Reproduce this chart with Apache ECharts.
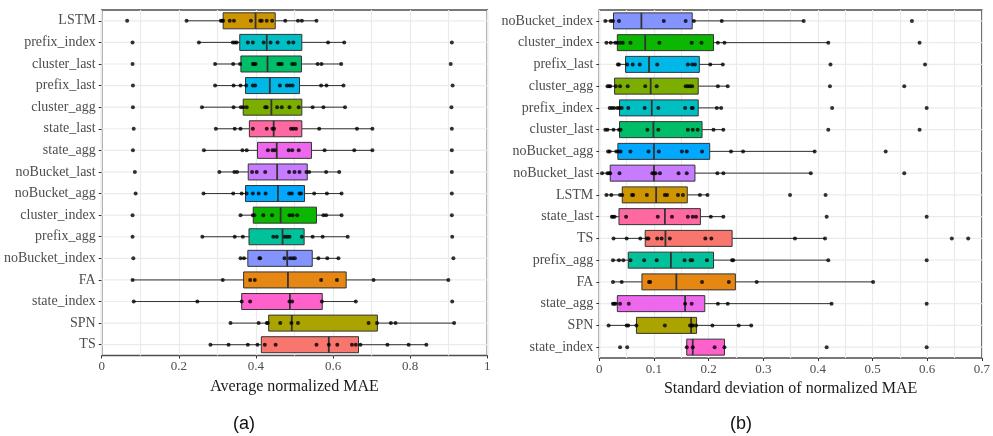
<!DOCTYPE html>
<html>
<head>
<meta charset="utf-8">
<script src="https://cdn.jsdelivr.net/npm/echarts@6/dist/echarts.min.js"></script>
<style>
html,body{margin:0;padding:0;background:#fff;}
#chart{width:993px;height:436px;}
</style>
</head>
<body>
<div id="chart"></div>
<script>
// ---------- Panel (a): average normalized MAE ----------
const catsA = ['LSTM','prefix_index','cluster_last','prefix_last','cluster_agg','state_last','state_agg','noBucket_last','noBucket_agg','cluster_index','prefix_agg','noBucket_index','FA','state_index','SPN','TS'];
// [whisker low, Q1, median, Q3, whisker high]
const boxA = [
  [0.220,0.315,0.399,0.450,0.557],
  [0.252,0.358,0.428,0.519,0.629],
  [0.294,0.361,0.430,0.518,0.621],
  [0.294,0.373,0.436,0.513,0.627],
  [0.260,0.367,0.440,0.519,0.631],
  [0.296,0.383,0.446,0.519,0.702],
  [0.265,0.404,0.454,0.544,0.702],
  [0.305,0.380,0.455,0.533,0.616],
  [0.264,0.373,0.457,0.526,0.622],
  [0.360,0.393,0.464,0.557,0.622],
  [0.261,0.382,0.469,0.525,0.638],
  [0.360,0.379,0.481,0.546,0.614],
  [0.080,0.368,0.483,0.634,0.899],
  [0.083,0.363,0.488,0.572,0.659],
  [0.334,0.433,0.493,0.715,0.914],
  [0.282,0.414,0.589,0.666,0.842]
];
const ptsA = [
  [0.066,0.220,0.309,0.312,0.315,0.332,0.343,0.387,0.411,0.415,0.428,0.442,0.476,0.509,0.519,0.557],
  [0.080,0.252,0.340,0.345,0.350,0.379,0.392,0.420,0.438,0.456,0.485,0.497,0.587,0.629,0.908],
  [0.080,0.294,0.341,0.359,0.392,0.395,0.399,0.458,0.462,0.467,0.494,0.501,0.560,0.570,0.621,0.905],
  [0.081,0.294,0.342,0.360,0.375,0.392,0.398,0.462,0.480,0.488,0.495,0.569,0.583,0.627,0.910],
  [0.081,0.260,0.342,0.361,0.367,0.376,0.424,0.428,0.455,0.467,0.487,0.511,0.547,0.575,0.631,0.907],
  [0.083,0.296,0.345,0.360,0.392,0.428,0.443,0.447,0.491,0.497,0.504,0.564,0.662,0.702,0.908],
  [0.081,0.265,0.365,0.376,0.431,0.443,0.449,0.485,0.494,0.511,0.578,0.655,0.702,0.908],
  [0.086,0.305,0.344,0.351,0.390,0.402,0.424,0.486,0.500,0.513,0.531,0.538,0.582,0.616,0.908],
  [0.088,0.264,0.341,0.363,0.376,0.392,0.407,0.425,0.486,0.493,0.513,0.517,0.551,0.584,0.622,0.908],
  [0.080,0.360,0.392,0.396,0.419,0.442,0.487,0.495,0.507,0.575,0.582,0.622,0.908],
  [0.080,0.261,0.345,0.366,0.445,0.454,0.475,0.481,0.487,0.519,0.547,0.573,0.638,0.909],
  [0.082,0.360,0.369,0.409,0.411,0.474,0.488,0.495,0.501,0.562,0.585,0.614,0.912],
  [0.080,0.314,0.385,0.397,0.569,0.610,0.705,0.899],
  [0.083,0.248,0.363,0.385,0.487,0.494,0.571,0.659,0.909],
  [0.334,0.407,0.428,0.431,0.463,0.492,0.509,0.692,0.714,0.750,0.762,0.914],
  [0.282,0.329,0.379,0.404,0.423,0.451,0.557,0.589,0.611,0.649,0.659,0.671,0.741,0.796,0.842]
];
const ticksA = {min:0, max:1, interval:0.2};

// ---------- Panel (b): standard deviation of normalized MAE ----------
const catsB = ['noBucket_index','cluster_index','prefix_last','cluster_agg','prefix_index','cluster_last','noBucket_agg','noBucket_last','LSTM','state_last','TS','prefix_agg','FA','state_agg','SPN','state_index'];
const boxB = [
  [0.011,0.026,0.077,0.170,0.374],
  [0.013,0.033,0.084,0.209,0.419],
  [0.034,0.048,0.091,0.183,0.226],
  [0.015,0.028,0.094,0.181,0.235],
  [0.019,0.037,0.096,0.181,0.223],
  [0.011,0.037,0.099,0.188,0.227],
  [0.016,0.034,0.100,0.202,0.394],
  [0.005,0.020,0.100,0.175,0.387],
  [0.013,0.042,0.104,0.161,0.198],
  [0.023,0.036,0.120,0.185,0.227],
  [0.026,0.084,0.121,0.243,0.413],
  [0.025,0.053,0.131,0.209,0.419],
  [0.025,0.078,0.141,0.249,0.501],
  [0.025,0.033,0.157,0.193,0.425],
  [0.017,0.068,0.168,0.178,0.278],
  [0.160,0.160,0.171,0.229,0.229]
];
const ptsB = [
  [0.011,0.021,0.025,0.036,0.118,0.158,0.173,0.224,0.374,0.572],
  [0.013,0.021,0.029,0.033,0.038,0.043,0.057,0.110,0.169,0.187,0.217,0.229,0.419,0.586],
  [0.034,0.036,0.051,0.061,0.074,0.106,0.162,0.170,0.175,0.203,0.226,0.423,0.596],
  [0.015,0.018,0.020,0.030,0.038,0.052,0.084,0.105,0.158,0.162,0.166,0.170,0.217,0.235,0.422,0.558],
  [0.019,0.023,0.027,0.033,0.037,0.041,0.053,0.083,0.108,0.157,0.169,0.171,0.215,0.223,0.426,0.599],
  [0.011,0.015,0.026,0.036,0.039,0.088,0.108,0.162,0.171,0.180,0.209,0.227,0.419,0.586],
  [0.016,0.019,0.031,0.035,0.039,0.057,0.090,0.109,0.151,0.160,0.188,0.241,0.263,0.394,0.524],
  [0.005,0.015,0.018,0.020,0.037,0.097,0.100,0.103,0.111,0.145,0.160,0.216,0.227,0.387,0.558],
  [0.013,0.022,0.038,0.042,0.060,0.062,0.087,0.120,0.124,0.144,0.153,0.184,0.198,0.349,0.414],
  [0.023,0.025,0.028,0.049,0.107,0.133,0.162,0.171,0.177,0.204,0.227,0.416,0.599],
  [0.026,0.050,0.075,0.087,0.090,0.106,0.114,0.129,0.194,0.205,0.358,0.413,0.645,0.675],
  [0.025,0.036,0.044,0.057,0.082,0.105,0.156,0.167,0.170,0.197,0.243,0.245,0.419,0.599],
  [0.025,0.041,0.091,0.093,0.188,0.237,0.288,0.501],
  [0.025,0.027,0.030,0.038,0.054,0.157,0.169,0.217,0.235,0.425,0.599],
  [0.017,0.050,0.053,0.068,0.120,0.166,0.169,0.171,0.177,0.207,0.255,0.278],
  [0.038,0.051,0.160,0.171,0.211,0.229,0.416,0.599]
];
const ticksB = {min:0, max:0.7, interval:0.1};

const titleA = 'Average normalized MAE';
const titleB = 'Standard deviation of normalized MAE';

// ---------- styles ----------
const palette = {
  TS:'#F8766D', FA:'#E68613', LSTM:'#CD9600', SPN:'#ABA300', cluster_agg:'#7CAE00',
  cluster_index:'#0CB702', cluster_last:'#00BE67', prefix_agg:'#00C19A', prefix_index:'#00BFC4',
  prefix_last:'#00B8E7', noBucket_agg:'#00A9FF', noBucket_index:'#8494FF', noBucket_last:'#C77CFF',
  state_agg:'#ED68ED', state_index:'#FF61CC', state_last:'#FF68A1'
};
const serif = '"Liberation Serif", "DejaVu Serif", serif';
const gridColor = '#ebebeb';
const darkLine = '#333333';

function makeBoxData(cats, boxes){
  return cats.map((c,i)=>[i].concat(boxes[i]));
}
function makePoints(pts){
  const out = [];
  pts.forEach((arr,i)=>arr.forEach(v=>out.push([v,i])));
  return out;
}
function boxRender(cats){
  return function(params, api){
    const i = api.value(0);
    const lo = api.coord([api.value(1), i]);
    const q1 = api.coord([api.value(2), i]);
    const md = api.coord([api.value(3), i]);
    const q3 = api.coord([api.value(4), i]);
    const hi = api.coord([api.value(5), i]);
    const h = 16;
    const yc = q1[1];
    return {
      type:'group',
      children:[
        {type:'line', shape:{x1:lo[0],y1:yc,x2:q1[0],y2:yc}, style:{stroke:darkLine,lineWidth:1}},
        {type:'line', shape:{x1:q3[0],y1:yc,x2:hi[0],y2:yc}, style:{stroke:darkLine,lineWidth:1}},
        {type:'rect', shape:{x:q1[0], y:yc-h/2, width:q3[0]-q1[0], height:h},
          style:{fill:palette[cats[i]], stroke:darkLine, lineWidth:1}},
        {type:'line', shape:{x1:md[0],y1:yc-h/2,x2:md[0],y2:yc+h/2}, style:{stroke:darkLine,lineWidth:1.8}}
      ]
    };
  };
}
function hGridRender(params, api){
  const i = api.value(0);
  const p = api.coord([0, i]);
  const cs = params.coordSys;
  return {type:'line', shape:{x1:cs.x, y1:p[1], x2:cs.x+cs.width, y2:p[1]},
    style:{stroke:gridColor, lineWidth:1.2}};
}

function xAxisCfg(idx, t, name){
  return {
    type:'value', gridIndex:idx, min:t.min, max:t.max, interval:t.interval,
    name:name, nameLocation:'middle', nameGap:20,
    nameTextStyle:{fontFamily:serif, fontSize:16, color:'#1a1a1a'},
    axisLine:{show:false},
    axisTick:{show:true, length:3, lineStyle:{color:darkLine}},
    axisLabel:{fontFamily:serif, fontSize:13, color:'#4d4d4d', margin:5},
    splitLine:{show:true, lineStyle:{color:gridColor, width:1.2}},
    minorTick:{show:false, splitNumber:2},
    minorSplitLine:{show:true, lineStyle:{color:gridColor, width:1.2}}
  };
}
function yAxisCfg(idx, cats){
  return {
    type:'category', gridIndex:idx, data:cats, inverse:true,
    axisLine:{show:false},
    axisTick:{show:true, alignWithLabel:true, length:3, lineStyle:{color:darkLine}},
    axisLabel:{fontFamily:serif, fontSize:14, color:'#4d4d4d', margin:6},
    splitLine:{show:false}
  };
}

const chart = echarts.init(document.getElementById('chart'), null, {renderer:'canvas'});
const option = {
  backgroundColor:'#ffffff',
  animation:false,
  grid:[
    {left:101.7, right:505.7, top:10, bottom:80.5, show:true, borderColor:'#4d4d4d', borderWidth:1.5, backgroundColor:'#fff', containLabel:false},
    {left:599.3, right:8, top:10, bottom:78, show:true, borderColor:'#4d4d4d', borderWidth:1.5, backgroundColor:'#fff', containLabel:false}
  ],
  xAxis:[xAxisCfg(0, ticksA, titleA), xAxisCfg(1, ticksB, titleB)],
  yAxis:[yAxisCfg(0, catsA), yAxisCfg(1, catsB)],
  graphic:[
    {type:'text', left:233, top:415, style:{text:'(a)', font:'18px "Liberation Sans", "DejaVu Sans", sans-serif', fill:'#111'}},
    {type:'text', left:730, top:415, style:{text:'(b)', font:'18px "Liberation Sans", "DejaVu Sans", sans-serif', fill:'#111'}}
  ],
  series:[
    {type:'custom', xAxisIndex:0, yAxisIndex:0, renderItem:hGridRender, data:catsA.map((c,i)=>[i]), encode:{y:0}, z:1, silent:true},
    {type:'custom', xAxisIndex:0, yAxisIndex:0, renderItem:boxRender(catsA), data:makeBoxData(catsA, boxA), encode:{y:0, x:[1,2,3,4,5]}, z:2},
    {type:'scatter', xAxisIndex:0, yAxisIndex:0, data:makePoints(ptsA), symbolSize:4, itemStyle:{color:'#000'}, z:3},
    {type:'custom', xAxisIndex:1, yAxisIndex:1, renderItem:hGridRender, data:catsB.map((c,i)=>[i]), encode:{y:0}, z:1, silent:true},
    {type:'custom', xAxisIndex:1, yAxisIndex:1, renderItem:boxRender(catsB), data:makeBoxData(catsB, boxB), encode:{y:0, x:[1,2,3,4,5]}, z:2},
    {type:'scatter', xAxisIndex:1, yAxisIndex:1, data:makePoints(ptsB), symbolSize:4, itemStyle:{color:'#000'}, z:3}
  ]
};
chart.setOption(option);
</script>
</body>
</html>
